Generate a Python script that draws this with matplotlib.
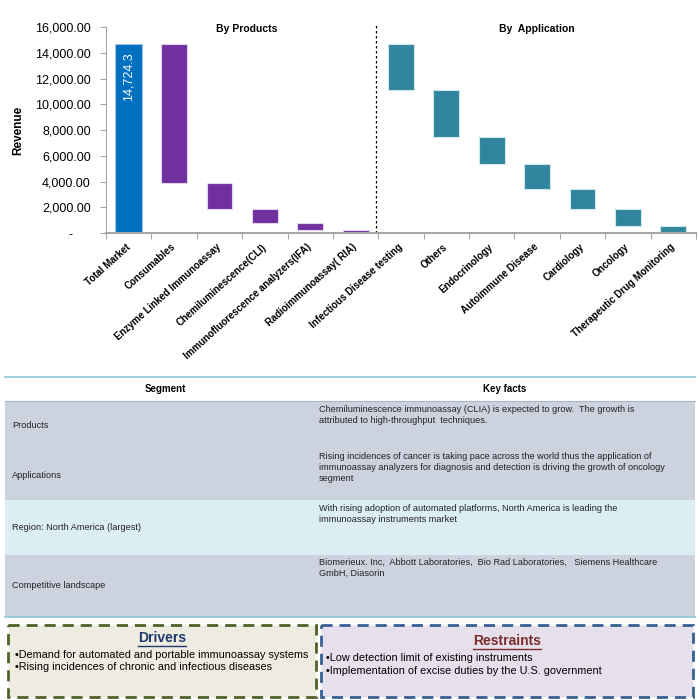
import matplotlib
matplotlib.use("Agg")
import matplotlib.pyplot as plt
import numpy as np
from matplotlib.patches import Rectangle
from matplotlib.ticker import FuncFormatter, FixedLocator

plt.rcParams["font.family"] = ["Liberation Sans", "DejaVu Sans"]

# ---- chart data -------------------------------------------------------------
total_label = "Total Market"
total_value = 14724.3
product_names = ["Consumables", "Enzyme Linked Immunoassay", "Chemiluminescence(CLI)",
                 "Immunofluorescence analyzers(IFA)", "Radioimmunoassay( RIA)"]
product_values = [10830, 2025, 1090, 570, 210]
application_names = ["Infectious Disease testing", "Others", "Endocrinology",
                     "Autoimmune Disease", "Cardiology", "Oncology",
                     "Therapeutic Drug Monitoring"]
application_values = [3634, 3660, 2080, 1923, 1558, 1293, 576]
y_ticks = [0, 2000, 4000, 6000, 8000, 10000, 12000, 14000, 16000]

# ---- table data -------------------------------------------------------------
segments = ["Products", "Applications", "Region: North America (largest)",
            "Competitive landscape"]
key_facts = [
    "Chemiluminescence immunoassay (CLIA) is expected to grow.  The growth is\n"
    "attributed to high-throughput  techniques.",
    "Rising incidences of cancer is taking pace across the world thus the application of\n"
    "immunoassay analyzers for diagnosis and detection is driving the growth of oncology\n"
    "segment",
    "With rising adoption of automated platforms, North America is leading the\n"
    "immunoassay instruments market",
    "Biomerieux. Inc,  Abbott Laboratories,  Bio Rad Laboratories,   Siemens Healthcare\n"
    "GmbH, Diasorin",
]
drivers = ["Demand for automated and portable immunoassay systems",
           "Rising incidences of chronic and infectious diseases"]
restraints = ["Low detection limit of existing instruments",
              "Implementation of excise duties by the U.S. government"]

TOTAL_COLOR = "#0070C0"
PRODUCT_COLOR = "#7030A0"
APP_COLOR = "#31859C"
SPINE = "#A6A6A6"

fig = plt.figure(figsize=(7, 7), dpi=100)

# overlay in pixel coordinates for the table and boxes
ov = fig.add_axes([0, 0, 1, 1])
ov.set_xlim(0, 700)
ov.set_ylim(700, 0)
ov.axis("off")

# ---- waterfall --------------------------------------------------------------
ax = fig.add_axes([106 / 700, 1 - 233 / 700, 590 / 700, 205.7 / 700])
names = [total_label] + product_names + application_names
x = np.arange(len(names))

ax.bar(0, total_value, width=0.6, color=TOTAL_COLOR, edgecolor="#9DC3E6", linewidth=0.8)
prod_tops = total_value - np.concatenate([[0], np.cumsum(product_values)[:-1]])
ax.bar(x[1:1 + len(product_values)], product_values, bottom=prod_tops - product_values,
       width=0.57, color=PRODUCT_COLOR, edgecolor="#E4D4F0", linewidth=0.8)
app_tops = total_value - np.concatenate([[0], np.cumsum(application_values)[:-1]])
ax.bar(x[1 + len(product_values):], application_values,
       bottom=app_tops - application_values,
       width=0.57, color=APP_COLOR, edgecolor="#CFE8EE", linewidth=0.8)

ax.text(0, total_value - 650, f"{total_value:,.1f}", rotation=90, ha="center", va="top",
        color="white", fontsize=9)

ax.set_xlim(-0.5, len(names) - 0.5)
ax.set_ylim(0, 16000)
ax.set_yticks(y_ticks)
ax.yaxis.set_major_formatter(FuncFormatter(lambda v, _: "-     " if v == 0 else f"{v:,.2f}"))
ax.tick_params(axis="y", labelsize=9, length=4, width=0.8, color=SPINE, pad=7)
ax.set_xticks(x)
ax.set_xticklabels(names, rotation=42, ha="right", va="center", rotation_mode="anchor",
                   fontsize=7, fontweight="bold")
ax.tick_params(axis="x", which="major", length=0, pad=9)
ax.xaxis.set_minor_locator(FixedLocator(np.arange(-0.5, len(names), 1.0)))
ax.tick_params(axis="x", which="minor", length=4, width=0.8, color=SPINE)
for side in ["top", "right"]:
    ax.spines[side].set_visible(False)
ax.spines["left"].set_color(SPINE)
ax.spines["bottom"].set_color(SPINE)
ax.spines["bottom"].set_linewidth(1.5)
ax.set_ylabel("Revenue", fontsize=8.5, fontweight="bold", labelpad=8)

split = len(product_values) + 0.45
ax.plot([split, split], [0, 16150], color="black", linestyle=(0, (2, 2)), linewidth=0.9,
        clip_on=False)
ax.text(2.6, 15850, "By Products", ha="center", va="center", fontsize=7.5, fontweight="bold")
ax.text(9.0, 15850, "By  Application", ha="center", va="center", fontsize=7.5,
        fontweight="bold")

# ---- key facts table --------------------------------------------------------
row_edges = [401, 450, 500, 555, 617]
row_colors = ["#CDD2DF", "#CDD2DF", "#DBEEF3", "#CDD2DF"]
for (y0, y1), c in zip(zip(row_edges[:-1], row_edges[1:]), row_colors):
    ov.add_patch(Rectangle((5, y0), 690, y1 - y0, facecolor=c, edgecolor="none"))
ov.plot([5, 695], [377, 377], color="#8CC7D6", linewidth=1.2)
ov.plot([5, 695], [401, 401], color="#A8B6CA", linewidth=0.8)
ov.plot([5, 695], [617, 617], color="#8CC7D6", linewidth=1.2)
ov.text(165, 389, "Segment", ha="center", va="center", fontsize=7, fontweight="bold")
ov.text(505, 389, "Key facts", ha="center", va="center", fontsize=7, fontweight="bold")

seg_y = [425, 475, 528, 586]
fact_y = [405, 452, 504, 558]
for name, fact, sy, fy in zip(segments, key_facts, seg_y, fact_y):
    ov.text(12, sy, name, ha="left", va="center", fontsize=6.6, color="#222222")
    ov.text(319, fy, fact, ha="left", va="top", fontsize=6.6, color="#222222",
            linespacing=1.3)

# ---- drivers / restraints boxes --------------------------------------------
ov.add_patch(Rectangle((8, 625), 308, 72, facecolor="#EEECE1", edgecolor="#4F6228",
                       linewidth=2, linestyle=(0, (4, 2.5))))
ov.add_patch(Rectangle((321, 625), 372, 72, facecolor="#E6E0EC", edgecolor="#376092",
                       linewidth=2, linestyle=(0, (4, 2.5))))

heads = [
    ov.text(162, 638, "Drivers", ha="center", va="center", fontsize=10, fontweight="bold",
            color="#1F3A6E"),
    ov.text(507, 641, "Restraints", ha="center", va="center", fontsize=10, fontweight="bold",
            color="#7B2C2C"),
]
for i, line in enumerate(drivers):
    ov.text(15, 655 + i * 12.5, "\u2022" + line, ha="left", va="center", fontsize=7.8)
for i, line in enumerate(restraints):
    ov.text(326, 658 + i * 13, "\u2022" + line, ha="left", va="center", fontsize=7.8)

# underline the two headings
fig.canvas.draw()
inv = ov.transData.inverted()
for t in heads:
    bb = t.get_window_extent()
    (x0, y0), (x1, y1) = inv.transform([(bb.x0, bb.y0), (bb.x1, bb.y1)])
    ov.plot([x0, x1], [y0 + 0.5, y0 + 0.5], color=t.get_color(), linewidth=1.0)

fig.savefig("out.png", dpi=100)
